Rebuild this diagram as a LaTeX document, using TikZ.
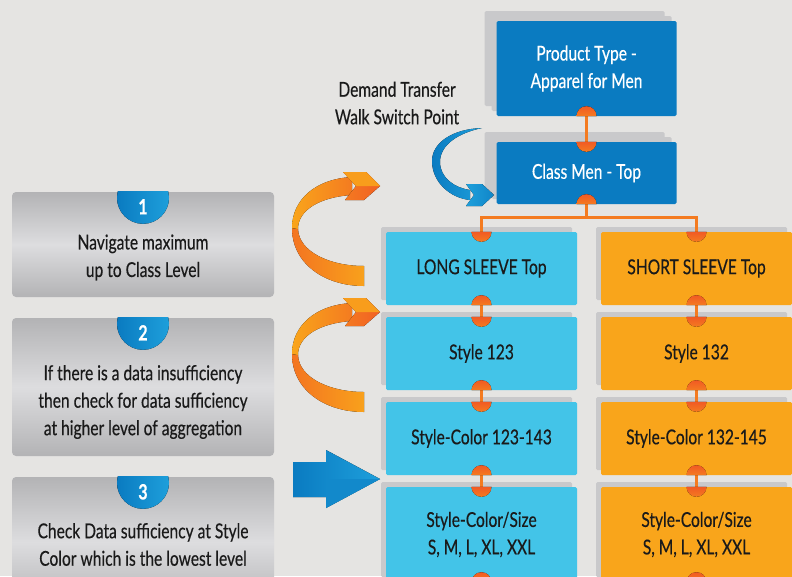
\documentclass[tikz,border=0pt]{standalone}
\usepackage{fontspec}
\setmainfont{Lato}[FakeStretch=0.76, FakeBold=0.4]
\usetikzlibrary{shadows}

\definecolor{paper}{HTML}{E5E4E2}
\definecolor{deepblue}{HTML}{0A7BC1}
\definecolor{skyblue}{HTML}{43C4E8}
\definecolor{amber}{HTML}{F9A51B}
\definecolor{rust}{HTML}{F15A24}
\definecolor{tangerine}{HTML}{F47B20}
\definecolor{shade}{HTML}{C9C9CB}
\definecolor{steel}{HTML}{B3B3B5}
\definecolor{silver}{HTML}{DDDDDF}
\definecolor{ink}{HTML}{1A1A1A}
\definecolor{azure}{HTML}{1E9FDB}

\tikzset{
  label font/.style={font=\fontsize{20.5}{27.5}\selectfont},
  box/.style={rectangle, rounded corners=1.5pt, inner sep=0pt, align=center,
    text=ink, label font, minimum width=191pt, minimum height=73pt,
    drop shadow={shadow xshift=-5pt, shadow yshift=5pt, fill=shade, opacity=1}},
  topbox/.style={box, fill=deepblue, text=white, minimum width=180pt,
    drop shadow={shadow xshift=-12pt, shadow yshift=10pt, fill=shade, opacity=1}},
  longbox/.style={box, fill=skyblue},
  shortbox/.style={box, fill=amber},
  stepbox/.style={rectangle, rounded corners=4pt, minimum width=262pt,
    top color=steel, bottom color=steel, middle color=silver},
  steptext/.style={align=center, text=ink, label font},
  badge/.style={left color=deepblue, right color=azure},
  badgenum/.style={text=white, font=\fontsize{21}{21}\selectfont\bfseries},
  linkline/.style={draw=tangerine, line width=2.6pt},
  knob/.style={top color=rust, bottom color=tangerine}
}

% orange joint between two stacked boxes
\def\link(#1)(#2){%
  \draw[linkline] (#1.south) -- (#2.north);
  \fill[knob] (#1.south) ++(-10,0) arc (180:360:10) -- cycle;
  \fill[knob] (#2.north) ++(-10,0) arc (180:0:10) -- cycle;
}

% round number tab on top of a step box
\def\stepbadge(#1)(#2){%
  \begin{scope}
    \clip (#1.north west) rectangle (#1.south east);
    \fill[badge] ([yshift=-6pt]#1.north) circle (26);
  \end{scope}
  \node[badgenum] (#1num) at ([yshift=-15pt]#1.north) {#2};
}

% curled orange arrow, tail at the bottom, head pointing right
\def\swingarrow(#1){%
  \begin{scope}[shift={(0,#1)}]
    \fill[left color=tangerine!80!rust, right color=amber!90!tangerine]
      (292,228) .. controls (292,264) and (325,286) .. (364,286)
      -- (364,266) .. controls (330,266) and (299,252) .. (298,229) -- cycle;
    \fill[left color=amber, right color=tangerine]
      (298,229) .. controls (298,210) and (320,197) .. (352,195)
      -- (352,177) .. controls (315,179) and (292,200) .. (292,228) -- cycle;
    \fill[left color=tangerine, right color=rust!80!tangerine]
      (343,172) -- (366,172) -- (380,186) -- (364,200) -- (345,200) -- (356,186) -- cycle;
    \fill[amber!80!tangerine] (356,186) -- (380,186) -- (366,172) -- (343,172) -- cycle;
  \end{scope}
}

\begin{document}
\begin{tikzpicture}[x=1pt, y=-1pt]
  \fill[paper] (0,0) rectangle (792,576);
  \useasboundingbox (0,0) rectangle (792,576);

  %%%%% hierarchy %%%%%
  \node[topbox, minimum height=95pt] (ptype) at (586.5,68.5) {Product Type -\\Apparel for Men};
  \node[topbox, minimum height=62pt] (cls) at (586.5,173) {Class Men - Top};

  \node[longbox] (long) at (481.5,268.5) {LONG SLEEVE Top};
  \node[longbox] (lstyle) at (481.5,353.5) {Style 123};
  \node[longbox] (lcolor) at (481.5,438.5) {Style-Color 123-143};
  \node[longbox, minimum height=95pt] (lsize) at (481.5,534.5) {Style-Color/Size\\S, M, L, XL, XXL};

  \node[shortbox] (short) at (696.5,268.5) {SHORT SLEEVE Top};
  \node[shortbox] (sstyle) at (696.5,353.5) {Style 132};
  \node[shortbox] (scolor) at (696.5,438.5) {Style-Color 132-145};
  \node[shortbox, minimum height=95pt] (ssize) at (696.5,534.5) {Style-Color/Size\\S, M, L, XL, XXL};

  \link(ptype)(cls)
  \link(long)(lstyle)
  \link(lstyle)(lcolor)
  \link(lcolor)(lsize)
  \link(short)(sstyle)
  \link(sstyle)(scolor)
  \link(scolor)(ssize)

  % split below the class box
  \draw[linkline] (cls.south) -- ++(0,13) coordinate (fork);
  \draw[linkline] (fork) -| (long.north);
  \draw[linkline] (fork) -| (short.north);
  \fill[knob] (cls.south) ++(-10,0) arc (180:360:10) -- cycle;
  \fill[knob] (long.north) ++(-10,0) arc (180:0:10) -- cycle;
  \fill[knob] (short.north) ++(-10,0) arc (180:0:10) -- cycle;
  \fill[knob] (lsize.south) ++(-10,0) arc (180:360:10) -- cycle;
  \fill[knob] (ssize.south) ++(-10,0) arc (180:360:10) -- cycle;

  \node[steptext] (switch) at (397,103) {Demand Transfer\\Walk Switch Point};

  %%%%% steps %%%%%
  \node[stepbox, minimum height=105pt] (step1) at (143,244.5) {};
  \stepbadge(step1)(1)
  \node[steptext] (step1txt) at (143,257.5) {Navigate maximum\\up to Class Level};

  \node[stepbox, minimum height=138pt] (step2) at (143,387) {};
  \stepbadge(step2)(2)
  \node[steptext] (step2txt) at (143,402) {If there is a data insufficiency\\then check for data sufficiency\\at higher level of aggregation};

  \node[stepbox, minimum height=130pt] (step3) at (143,542) {};
  \stepbadge(step3)(3)
  \node[steptext] (step3txt) at (143,544.5) {Check Data sufficiency at Style\\Color which is the lowest level};

  %%%%% arrows %%%%%
  \swingarrow(0)
  \swingarrow(126)

  % blue curl into the class box
  \fill[left color=deepblue, right color=azure]
    (482,128) .. controls (452,129) and (432,143) .. (432,161)
    .. controls (432,182) and (450,198) .. (470,200)
    -- (470,190) .. controls (455,188) and (440,178) .. (440,162)
    .. controls (440,145) and (458,133) .. (482,128) -- cycle;
  \fill[left color=azure, right color=deepblue!70!azure]
    (466,184) -- (482,184) -- (494,195) -- (482,206) -- (466,206) -- (474,195) -- cycle;

  % blue block arrow
  \fill[left color=deepblue, right color=azure]
    (293,462) -- (326,462) -- (326,450) -- (380,479) -- (326,508) -- (326,497) -- (293,497) -- cycle;
  \fill[deepblue!60!azure] (326,479) -- (380,479) -- (326,508) -- cycle;
\end{tikzpicture}
\end{document}
